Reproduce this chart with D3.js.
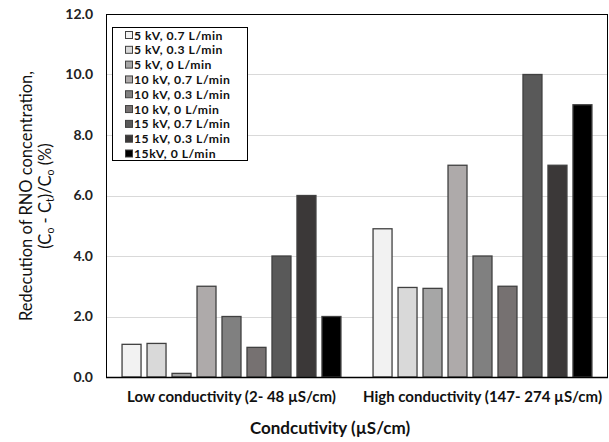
<!DOCTYPE html>
<html><head><meta charset="utf-8">
<script src="https://cdn.jsdelivr.net/npm/d3@7"></script>
<style>body{margin:0;background:#fff}svg{display:block;font-family:Lato,"Open Sans",sans-serif}</style>
</head><body><svg id="c" width="609" height="442"></svg>
<script>
const categories = ["Low conductivity (2- 48 \u00b5S/cm)", "High conductivity (147- 274 \u00b5S/cm)"];
const seriesNames = ["5 kV, 0.7 L/min","5 kV, 0.3 L/min","5 kV, 0 L/min","10 kV, 0.7 L/min","10 kV, 0.3 L/min","10 kV, 0 L/min","15 kV, 0.7 L/min","15 kV, 0.3 L/min","15kV, 0 L/min"];
const lowValues  = [1.08, 1.11, 0.12, 3.0, 2.0, 0.98, 4.0, 6.0, 2.0];
const highValues = [4.9, 2.96, 2.93, 7.0, 4.0, 3.0, 10.0, 7.0, 9.0];
const seriesColors = ["#f2f2f2","#d9d9d9","#a6a6a6","#aeaaaa","#808080","#767171","#595959","#3b3838","#000000"];
const yTicks = [0,2,4,6,8,10,12];

const values = [lowValues, highValues];
const svg = d3.select("#c");
const L=106, R=608, T=14, B=377;
const x0 = d3.scaleBand().domain(categories).range([L,R]).paddingInner(0.104).paddingOuter(0.052);
const x1 = d3.scaleBand().domain(seriesNames).range([0,x0.bandwidth()]).paddingInner(0.2).paddingOuter(0.1);
const y = d3.scaleLinear().domain([0,12]).range([B,T]);
const color = d3.scaleOrdinal().domain(seriesNames).range(seriesColors);

// gridlines
svg.append("g").selectAll("line").data(yTicks.filter(d=>d>0&&d<12)).join("line")
  .attr("x1",L).attr("x2",R).attr("y1",d=>Math.round(y(d))+0.5).attr("y2",d=>Math.round(y(d))+0.5)
  .attr("stroke","#d9d9d9").attr("stroke-width",1);

// bars
categories.forEach((c,ci)=>{
  svg.append("g").selectAll("rect").data(values[ci].map((v,i)=>({s:seriesNames[i],v}))).join("rect")
    .attr("x",d=>x0(c)+x1(d.s)+0.5).attr("width",x1.bandwidth()-1)
    .attr("y",d=>y(d.v)).attr("height",d=>B-y(d.v))
    .attr("fill",d=>color(d.s)).attr("stroke","#404040").attr("stroke-width",1.3);
});

// frame
svg.append("rect").attr("x",L+0.5).attr("y",T+0.5).attr("width",R-L-1).attr("height",B-T)
  .attr("fill","none").attr("stroke","#000").attr("stroke-width",1);
svg.append("line").attr("x1",L).attr("x2",R).attr("y1",B+0.5).attr("y2",B+0.5).attr("stroke","#000").attr("stroke-width",1.5);

// y axis labels
const yAxis = d3.axisLeft(y).tickValues(yTicks).tickFormat(d3.format(".1f")).tickSize(0).tickPadding(13);
const ga = svg.append("g").attr("transform",`translate(${L},0)`).call(yAxis);
ga.select(".domain").remove();
ga.selectAll("text").attr("font-size",14).attr("font-weight","bold").attr("fill","#222").attr("font-family","Lato,sans-serif");

// x axis labels
const xAxis = d3.axisBottom(x0).tickSize(0).tickPadding(14);
const gx = svg.append("g").attr("transform",`translate(0,${B})`).call(xAxis);
gx.select(".domain").remove();
gx.selectAll("text").attr("font-size",15).attr("font-weight","bold").attr("fill","#111").attr("font-family","Lato,sans-serif");

// x title
svg.append("text").attr("x",330).attr("y",434).attr("text-anchor","middle")
  .attr("font-size",17).attr("font-weight","bold").attr("fill","#111").text("Condcutivity (\u00b5S/cm)");

// y title
const yt = svg.append("text").attr("transform","translate(32,196) rotate(-90)").attr("text-anchor","middle")
  .attr("font-size",16.5).attr("fill","#111");
yt.append("tspan").attr("x",0).attr("y",0).text("Redecution of RNO concentration,");
const l2 = yt.append("tspan").attr("x",0).attr("dy",19);
l2.text("(C");
yt.append("tspan").attr("font-size",10.5).attr("dy",3).text("o");
yt.append("tspan").attr("dy",-3).text(" - C");
yt.append("tspan").attr("font-size",10.5).attr("dy",3).text("t");
yt.append("tspan").attr("dy",-3).text(")/C");
yt.append("tspan").attr("font-size",10.5).attr("dy",3).text("o");
yt.append("tspan").attr("dy",-3).text(" (%)");

// legend
const lg = svg.append("g");
lg.append("rect").attr("x",112.5).attr("y",27.5).attr("width",135).attr("height",133)
  .attr("fill","#fff").attr("stroke","#000").attr("stroke-width",1);
const rowY = d3.scalePoint().domain(seriesNames).range([35,153.5]);
const items = lg.selectAll("g").data(seriesNames).join("g").attr("transform",d=>`translate(0,${rowY(d)})`);
items.append("rect").attr("x",125.5).attr("y",-3.5).attr("width",7).attr("height",7)
  .attr("fill",d=>color(d)).attr("stroke","#404040").attr("stroke-width",1);
items.append("text").attr("x",134).attr("y",4.5).attr("font-size",12.2).attr("letter-spacing",0.5)
  .attr("font-weight","bold").attr("fill","#111").text(d=>d);
</script></body></html>
